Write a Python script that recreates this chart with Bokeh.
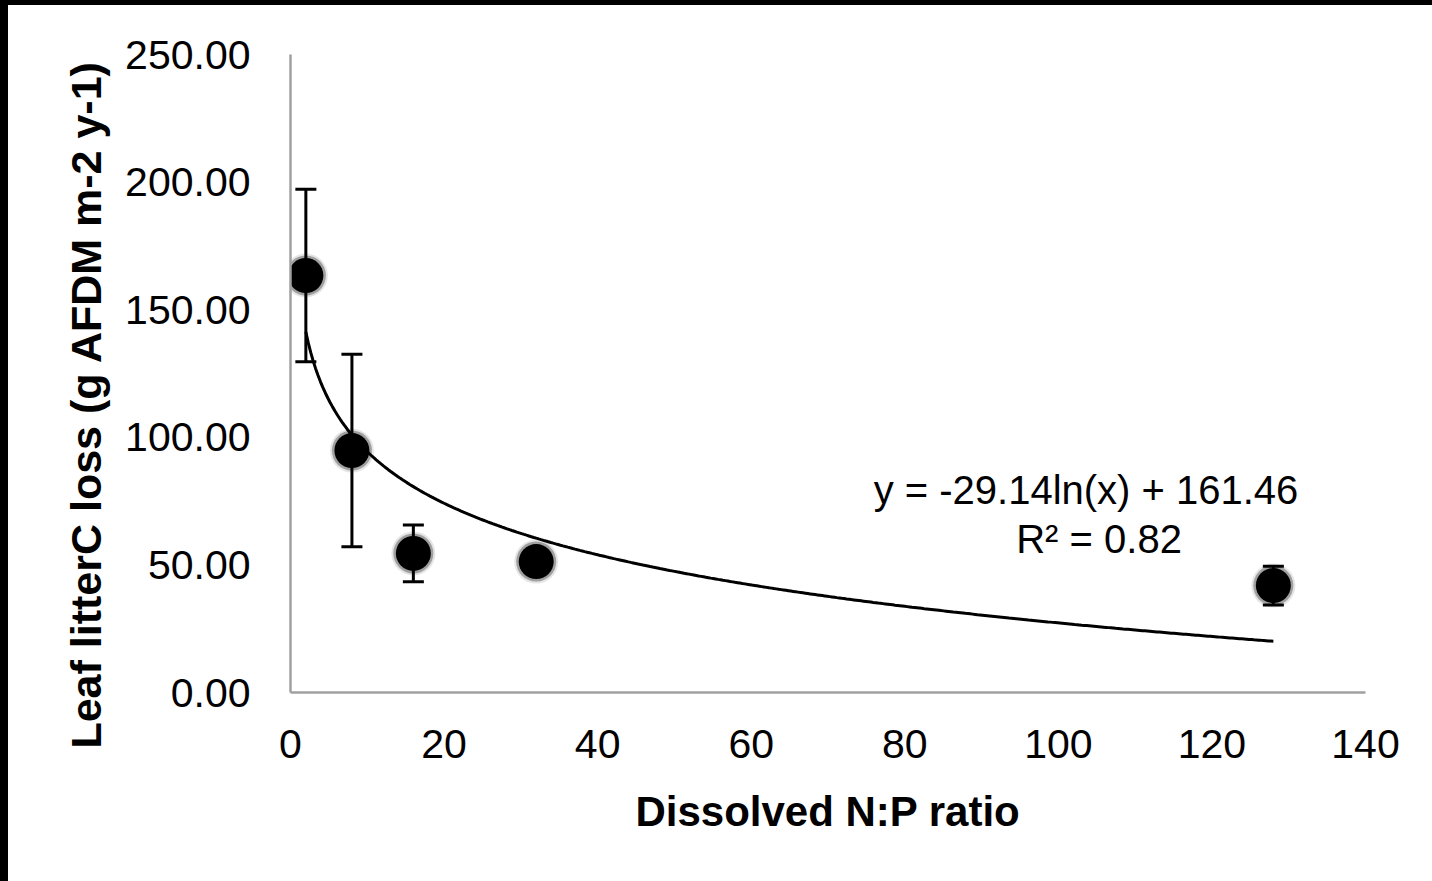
import numpy as np
from bokeh.plotting import figure
from bokeh.models import (ColumnDataSource, Range1d, FixedTicker, NumeralTickFormatter,
                          Whisker, TeeHead, Label, Title)
from bokeh.embed import file_html
from bokeh.resources import INLINE

# ---- data ----
np_ratio = [2, 8, 16, 32, 128]
c_loss = [163.4, 94.8, 54.5, 51.3, 41.9]
c_err = [33.8, 37.7, 11.1, 4.0, 7.6]
trend_slope = -29.14
trend_intercept = 161.46
trend_x_range = [2, 128]
x_ticks = [0, 20, 40, 60, 80, 100, 120, 140]
y_ticks = [0, 50, 100, 150, 200, 250]
x_title = "Dissolved N:P ratio"
y_title = "Leaf litterC loss (g AFDM m-2 y-1)"
eq_text = "y = -29.14ln(x) + 161.46"
r2_text = "R² = 0.82"

FONT = "Liberation Sans"

p = figure(width=1424, height=876, output_backend="svg", toolbar_location=None,
           x_range=Range1d(0, 140), y_range=Range1d(0, 250),
           min_border_left=282, min_border_right=67, min_border_top=49, min_border_bottom=189)
p.outline_line_color = None
p.grid.visible = False
p.background_fill_color = "white"
p.border_fill_color = "white"

for ax in (p.xaxis[0], p.yaxis[0]):
    ax.axis_line_color = "#a0a0a0"
    ax.axis_line_width = 2.5
    ax.major_tick_line_color = None
    ax.minor_tick_line_color = None
    ax.major_tick_out = 0
    ax.major_tick_in = 0
    ax.major_label_text_font = FONT
    ax.major_label_text_font_size = "41px"
    ax.major_label_text_color = "black"
    ax.axis_label_text_font = FONT
    ax.axis_label_text_font_size = "42px"
    ax.axis_label_text_font_style = "bold"
    ax.axis_label_text_color = "black"

p.xaxis[0].ticker = FixedTicker(ticks=x_ticks)
p.yaxis[0].ticker = FixedTicker(ticks=y_ticks)
p.yaxis[0].formatter = NumeralTickFormatter(format="0.00")
p.xaxis[0].major_label_standoff = 37
p.yaxis[0].major_label_standoff = 40
p.xaxis[0].axis_label = x_title
p.xaxis[0].axis_label_standoff = 27

# y-axis title as a side title, anchored near the top of the frame (as in the reference)
yt = Title(text=y_title, align="right", vertical_align="bottom", offset=6, standoff=26,
           text_font=FONT, text_font_size="43px", text_font_style="bold", text_color="black")
p.add_layout(yt, "left")

src = ColumnDataSource(dict(
    x=np_ratio, y=c_loss,
    lo=[v - e for v, e in zip(c_loss, c_err)],
    hi=[v + e for v, e in zip(c_loss, c_err)],
))

w = Whisker(base="x", upper="hi", lower="lo", source=src, line_color="black", line_width=3,
            upper_head=TeeHead(size=21, line_color="black", line_width=3),
            lower_head=TeeHead(size=21, line_color="black", line_width=3))
p.add_layout(w)

# markers with soft edge
p.scatter("x", "y", source=src, size=44, fill_color="black", fill_alpha=0.10, line_color=None)
p.scatter("x", "y", source=src, size=40, fill_color="black", fill_alpha=0.30, line_color=None)
p.scatter("x", "y", source=src, size=35, fill_color="black", line_color=None)

# logarithmic trend line from the printed equation
tx = np.linspace(trend_x_range[0], trend_x_range[1], 400)
ty = trend_slope * np.log(tx) + trend_intercept
p.line(tx, ty, line_color="black", line_width=3)

p.add_layout(Label(x=103.6, y=79.2, text=eq_text, text_align="center", text_baseline="alphabetic",
                   text_font=FONT, text_font_size="40px", text_color="black"))
p.add_layout(Label(x=105.3, y=60.3, text=r2_text, text_align="center", text_baseline="alphabetic",
                   text_font=FONT, text_font_size="40px", text_color="black"))

html = file_html(p, INLINE)
html = html.replace("</head>",
                    "<style>html{background:#fff;}"
                    "body{margin:0 !important;padding:0 !important;background:#fff !important;"
                    "border-left:8px solid #000;border-top:5px solid #000;overflow:hidden;}</style></head>")
open("out.html", "w").write(html)
